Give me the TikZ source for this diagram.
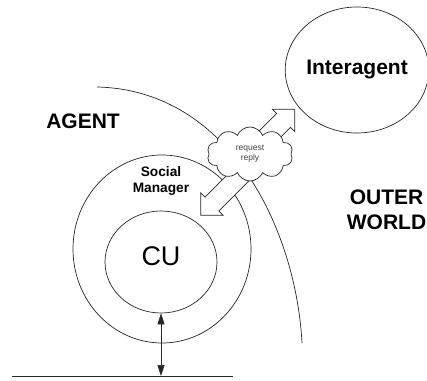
\documentclass[tikz,border=0pt]{standalone}
\usepackage{fontspec}
\setmainfont{Liberation Sans}
\usetikzlibrary{positioning,shapes.geometric,shapes.symbols,shapes.arrows,arrows.meta}

\begin{document}
\begin{tikzpicture}[%
	x=1pt, y=1pt,
	>={Triangle[length=11pt,width=7pt]},
	line width=0.7pt, draw=black!85,
	every node/.style={inner sep=0pt},
	bigtext/.style={font=\fontsize{21}{25}\selectfont\bfseries, align=center},
	smalltext/.style={font=\fontsize{13.7}{16}\selectfont\bfseries, align=center},
	ring/.style={draw, ellipse},
	fatarrow/.style={single arrow, draw, fill=white, text height=19pt, text depth=0pt,
		single arrow head extend=6pt, single arrow tip angle=90, minimum height=#1}
	]
	\useasboundingbox (0,0) rectangle (427,380);
	
	% agent boundary
	\draw (97,293) .. controls (230,290) and (296,150) .. (302,37);
	
	\node[ring, minimum width=140pt, minimum height=126pt, bigtext] (inter) at (357,310) {Interagent};
	\node[bigtext, anchor=base] (agent) at (83,251.7) {AGENT};
	\node[bigtext] (outer) at (386.5,170) {OUTER\\WORLD};
	
	\node[ring, minimum width=178pt, minimum height=188pt] (social) at (162,131) {};
	\node[smalltext] (smlabel) at (161,198.6) {Social\\Manager};
	\node[ring, minimum width=112pt, minimum height=102pt,
		font=\fontsize{27}{30}\selectfont, text depth=11pt] (cu) at (161,118) {CU};
	
	\coordinate (gl) at (12,4);
	\coordinate (gr) at (233,4);
	\draw (gl) -- (gr);
	\draw[<->] (cu.south) -- (cu.south |- gl);
	
	% request / reply
	\coordinate (hub) at (250,226);
	\node[fatarrow=63pt, rotate=45, anchor=tail] (tointer) at (hub) {};
	\node[fatarrow=75pt, rotate=225, anchor=tail] (tosocial) at ([xshift=4pt,yshift=-8pt]hub) {};
	\node[cloud, draw, fill=white, cloud puffs=10, cloud puff arc=135, aspect=1.6,
		minimum width=86pt, minimum height=54pt, align=center, text=black!75,
		font=\fontsize{8.5}{10}\selectfont] (msg) at (hub) {request\\reply};
	
\end{tikzpicture}
\end{document}
